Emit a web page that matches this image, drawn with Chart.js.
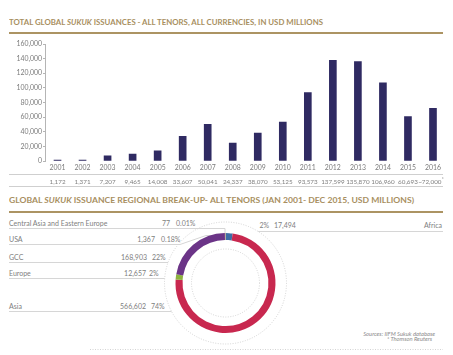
<!DOCTYPE html>
<html>
<head>
<meta charset="utf-8">
<script src="https://cdn.jsdelivr.net/npm/chart.js@4"></script>
<style>
  html, body { margin:0; padding:0; background:#fff; }
  body { width:453px; height:355px; position:relative; overflow:hidden; font-family: Lato, "Open Sans", sans-serif; }
  canvas { position:absolute; left:0; top:0; }
  .t { position:absolute; white-space:nowrap; line-height:10px; color:#808080; font-size:7px; }
  .title { position:absolute; white-space:nowrap; font-weight:bold; color:#a88f5f; font-size:7.6px; line-height:10px; transform-origin:0 50%; }
  .rule { position:absolute; left:9px; width:434px; height:2.5px; background:#ac9463; }
  .src { position:absolute; white-space:nowrap; font-style:italic; color:#8a8a8a; font-size:5.8px; line-height:7px; text-align:right; }
</style>
</head>
<body>
<div class="title" id="title1" style="left:9px; top:16.5px;">TOTAL GLOBAL <i>SUKUK</i> ISSUANCES  - ALL TENORS, ALL CURRENCIES, IN USD MILLIONS</div>
<div class="rule" style="top:31.5px;"></div>
<div class="title" id="title2" style="left:9px; top:195px;">GLOBAL <i>SUKUK</i> ISSUANCE REGIONAL BREAK-UP- ALL TENORS (JAN 2001- DEC 2015, USD MILLIONS)</div>
<div class="rule" style="top:210.5px;"></div>
<div id="rows"></div>
<div class="src" style="right:18px; top:329.5px;">Sources: IIFM Sukuk database</div>
<div class="src" style="right:21px; top:334.5px;">* Thomson Reuters</div>
<canvas id="donut" width="453" height="355"></canvas>
<canvas id="bars" width="453" height="355"></canvas>
<script>
// ---------- DATA ----------
const years = ['2001','2002','2003','2004','2005','2006','2007','2008','2009','2010','2011','2012','2013','2014','2015','2016'];
const issuance = [1172, 1371, 7207, 9465, 14008, 33607, 50041, 24337, 38070, 53125, 93573, 137599, 135870, 106960, 60693, 72000];
const issuanceLabels = ['1,172','1,371','7,207','9,465','14,008','33,607','50,041','24,337','38,070','53,125','93,573','137,599','135,870','106,960','60,693','~72,000'];
const yTicks = [0, 20000, 40000, 60000, 80000, 100000, 120000, 140000, 160000];

// regions, clockwise from 12 o'clock
const regions = ['Africa', 'Asia', 'Europe', 'GCC', 'USA', 'Central Asia and Eastern Europe'];
const regionValues = [17494, 566602, 12657, 168903, 1367, 77];
const regionValueLabels = ['17,494', '566,602', '12,657', '168,903', '1,367', '77'];
const regionPctLabels = ['2%', '74%', '2%', '22%', '0.18%', '0.01%'];

// ---------- helpers ----------
function fit(el, w) {
  const r = el.getBoundingClientRect();
  el.style.transform = 'scaleX(' + (w / r.width) + ')';
}
fit(document.getElementById('title1'), 314);
fit(document.getElementById('title2'), 405);

const rowsEl = document.getElementById('rows');
function addText(txt, x, y, align) {
  const d = document.createElement('div');
  d.className = 't';
  d.textContent = txt;
  d.style.top = (y - 5) + 'px';
  if (align === 'right') { d.style.right = (453 - x) + 'px'; }
  else { d.style.left = x + 'px'; }
  rowsEl.appendChild(d);
  return d;
}
// [regionIndex, rowY, valueRightX, pctLeftX]
const leftRows = [[5, 222.7, 170, 176], [4, 239, 155, 161], [3, 257, 147, 152], [2, 272.7, 146, 149], [1, 306, 146, 151]];
leftRows.forEach(r => {
  const i = r[0];
  addText(regions[i], 9, r[1], 'left');
  addText(regionValueLabels[i], r[2], r[1], 'right');
  addText(regionPctLabels[i], r[3], r[1], 'left');
});
addText(regionPctLabels[0], 259.5, 225, 'left');
addText(regionValueLabels[0], 274, 225, 'left');
addText(regions[0], 442, 225, 'right');

const FONT = 'Lato, "Open Sans", sans-serif';

// ---------- BAR CHART ----------
const barExtras = {
  id: 'barExtras',
  afterDraw(chart) {
    const ctx = chart.ctx;
    const xs = chart.scales.x;
    ctx.save();
    ctx.strokeStyle = '#cfcfcf';
    ctx.lineWidth = 1;
    ctx.beginPath();
    ctx.moveTo(9, 174.5); ctx.lineTo(443, 174.5);
    ctx.moveTo(9, 186.5); ctx.lineTo(443, 186.5);
    ctx.stroke();
    ctx.fillStyle = '#808080';
    ctx.textBaseline = 'middle';
    const last = issuanceLabels.length - 1;
    issuanceLabels.forEach((lab, i) => {
      const x = xs.getPixelForValue(i);
      ctx.font = '6.3px ' + FONT;
      if (i === last) {
        ctx.textAlign = 'right';
        ctx.fillText(lab, 441.5, 181.5);
        ctx.font = '5px ' + FONT;
        ctx.textAlign = 'left';
        ctx.fillText('*', 441.8, 179.5);
      } else {
        ctx.textAlign = 'center';
        ctx.fillText(lab, x, 181.5);
      }
    });
    ctx.restore();
  }
};

new Chart(document.getElementById('bars'), {
  type: 'bar',
  data: {
    labels: years,
    datasets: [{
      data: issuance,
      backgroundColor: '#2f2a62',
      barThickness: 7,
      borderWidth: 0
    }]
  },
  options: {
    responsive: false,
    animation: false,
    events: [],
    layout: { padding: { left: 0, right: 7.5, top: 44, bottom: 0 } },
    plugins: { legend: { display: false }, tooltip: { enabled: false } },
    scales: {
      x: {
        grid: { display: false, drawTicks: false },
        border: { display: false },
        ticks: { color: '#7b7b7b', font: { size: 6.9, family: FONT }, padding: 3, maxRotation: 0, autoSkip: false },
        afterFit(s) { s.height = 355 - 161; }
      },
      y: {
        min: 0, max: 160000,
        afterBuildTicks(s) { s.ticks = yTicks.map(v => ({ value: v })); },
        grid: { drawOnChartArea: false, drawTicks: true, tickLength: 2, color: '#b5b5b5' },
        border: { display: true, color: '#b5b5b5' },
        ticks: {
          color: '#7b7b7b', padding: 1,
          font: { size: 6.9, family: FONT },
          callback: v => v.toLocaleString('en-US')
        },
        afterFit(s) { s.width = 45; }
      }
    }
  },
  plugins: [barExtras]
});

// ---------- DONUT ----------
const donutExtras = {
  id: 'donutExtras',
  beforeDatasetsDraw(chart) {
    const ctx = chart.ctx;
    const a = chart.chartArea;
    const cx = (a.left + a.right) / 2, cy = (a.top + a.bottom) / 2;
    const R = 61, r2 = 34;
    ctx.save();
    ctx.strokeStyle = '#c9c9c9';
    ctx.lineWidth = 0.8;
    ctx.setLineDash([1, 1.5]);
    ctx.beginPath(); ctx.arc(cx, cy, R, 0, Math.PI * 2); ctx.stroke();
    ctx.beginPath(); ctx.arc(cx, cy, r2, 0, Math.PI * 2); ctx.stroke();
    ctx.beginPath(); ctx.moveTo(90, 349.5); ctx.lineTo(443, 349.5); ctx.stroke();
    ctx.setLineDash([]);
    ctx.strokeStyle = '#d6d6d6';
    ctx.lineWidth = 1;
    const xl = y => cx - Math.sqrt(Math.max(0, R * R - (y - cy) * (y - cy)));
    const xr = y => cx + Math.sqrt(Math.max(0, R * R - (y - cy) * (y - cy)));
    ctx.beginPath();
    ctx.moveTo(9, 228.5); ctx.lineTo(cx - 0.5, 228.5); ctx.lineTo(cx - 0.5, cy - 50);
    ctx.moveTo(9, 244.5); ctx.lineTo(180, 244.5); ctx.lineTo(206, 235.5); ctx.lineTo(cx - 1.5, 235.5);
    [262.5, 278.5, 311.5].forEach(y => { ctx.moveTo(9, y); ctx.lineTo(xl(y), y); });
    ctx.moveTo(xr(231.5), 231.5); ctx.lineTo(443, 231.5);
    ctx.stroke();
    ctx.restore();
  }
};

new Chart(document.getElementById('donut'), {
  type: 'doughnut',
  data: {
    labels: regions,
    datasets: [{
      data: regionValues,
      backgroundColor: ['#3d6ea6', '#c8284f', '#8db23e', '#6b3487', '#c9a46a', '#c9a46a'],
      borderWidth: 0,
      hoverOffset: 0,
      radius: 50,
      cutout: 43
    }]
  },
  options: {
    responsive: false,
    animation: false,
    events: [],
    rotation: 0,
    layout: { padding: { left: 175.5, right: 177.5, top: 233, bottom: 22 } },
    plugins: { legend: { display: false }, tooltip: { enabled: false } }
  },
  plugins: [donutExtras]
});
</script>
</body>
</html>
